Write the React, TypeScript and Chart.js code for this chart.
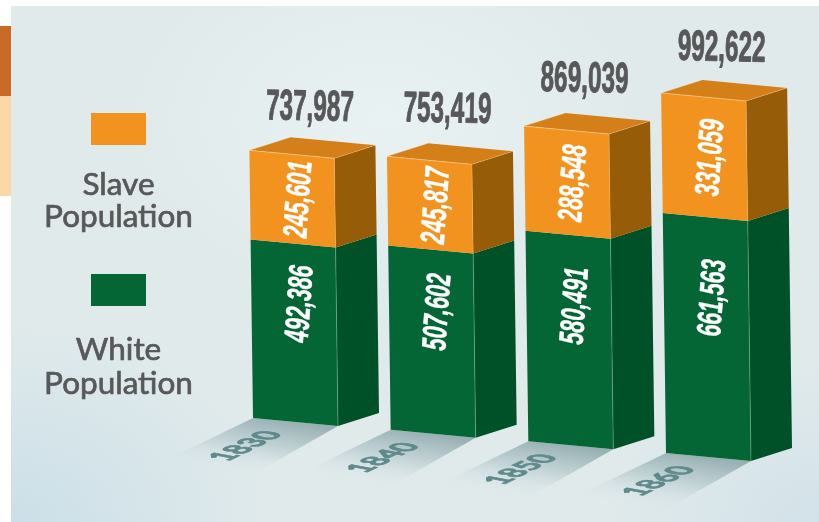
import React, { useEffect, useRef } from "react";
import { Chart, registerables } from "chart.js";

Chart.register(...registerables);

const years = ["1830", "1840", "1850", "1860"];
const whitePopulation = [492386, 507602, 580491, 661563];
const slavePopulation = [245601, 245817, 288548, 331059];

const ORANGE = "#F3931F";
const ORANGE_TOP = "#D47F17";
const ORANGE_SIDE = "#975C07";
const GREEN = "#046535";
const GREEN_SIDE = "#005127";
const TEXT = "#58585A";

const SHEAR_X = 0.0135;
const SHEAR_Y = 0.094;
const BASE_SLOPE = 0.0847;
const DEPTH = { x: 41, y: -13 };
const FLOOR = { x: -95, y: 50 };
const TOTAL_NUDGE_Y = [2, -2, -2, 0];
const NARROW = '"Liberation Sans Narrow", "Liberation Sans", sans-serif';

const fmt = (n: number) => n.toLocaleString("en-US");

function poly(ctx: CanvasRenderingContext2D, pts: number[][], fill: any) {
  ctx.beginPath();
  pts.forEach((p, i) => (i ? ctx.lineTo(p[0], p[1]) : ctx.moveTo(p[0], p[1])));
  ctx.closePath();
  ctx.fillStyle = fill;
  ctx.fill();
}

function line(ctx: CanvasRenderingContext2D, a: number[], b: number[], color: string) {
  ctx.beginPath();
  ctx.moveTo(a[0], a[1]);
  ctx.lineTo(b[0], b[1]);
  ctx.strokeStyle = color;
  ctx.lineWidth = 0.8;
  ctx.stroke();
}

function fitText(ctx: CanvasRenderingContext2D, text: string, font: string, target: number, color: string, weight: number) {
  ctx.font = font;
  ctx.textAlign = "center";
  ctx.textBaseline = "middle";
  ctx.fillStyle = color;
  ctx.strokeStyle = color;
  ctx.lineWidth = weight;
  ctx.lineJoin = "round";
  const w = ctx.measureText(text).width;
  ctx.scale(target / w, 1);
  ctx.strokeText(text, 0, 0);
  ctx.fillText(text, 0, 0);
}

const prismPlugin = {
  id: "prism",
  beforeDatasetsDraw(chart: any) {
    const ctx: CanvasRenderingContext2D = chart.ctx;
    const metaW = chart.getDatasetMeta(0);
    const metaS = chart.getDatasetMeta(1);
    const Yb = chart.scales.y.getPixelForValue(0);
    const L0 = metaW.data[0].x - metaW.data[0].width / 2;

    // legend
    ctx.save();
    [
      { ds: 1, top: 113, lines: [195, 227] },
      { ds: 0, top: 274, lines: [360, 394] },
    ].forEach(({ ds, top, lines }) => {
      const d = chart.data.datasets[ds];
      ctx.fillStyle = d.backgroundColor;
      ctx.fillRect(91, top, 55, 32);
      ctx.font = '31.5px Lato, "Open Sans", sans-serif';
      ctx.textAlign = "center";
      ctx.textBaseline = "alphabetic";
      ctx.fillStyle = TEXT;
      ctx.strokeStyle = TEXT;
      ctx.lineWidth = 0.7;
      d.label.split(" ").forEach((t: string, i: number) => {
        ctx.strokeText(t, 118.5, lines[i]);
        ctx.fillText(t, 118.5, lines[i]);
      });
    });
    ctx.restore();

    metaW.data.forEach((w: any, i: number) => {
      const s = metaS.data[i];
      const L = w.x - w.width / 2;
      const R = w.x + w.width / 2;
      const shift = -SHEAR_Y * L + BASE_SLOPE * (L - L0);
      const M = (x: number, y: number) => [x + SHEAR_X * (y - Yb), y + SHEAR_Y * x + shift];
      const B = (p: number[]) => [p[0] + DEPTH.x, p[1] + DEPTH.y];

      // floor shadow
      const bl = M(L, Yb);
      const br = M(R, Yb);
      const midX = (bl[0] + br[0]) / 2;
      const midY = (bl[1] + br[1]) / 2;
      const g = ctx.createLinearGradient(midX, midY, midX - 10, midY + 60);
      g.addColorStop(0, "rgba(152,175,179,1)");
      g.addColorStop(0.45, "rgba(186,205,207,0.85)");
      g.addColorStop(1, "rgba(224,234,235,0)");
      poly(ctx, [bl, br, [br[0] + FLOOR.x, br[1] + FLOOR.y + 4], [bl[0] + FLOOR.x, bl[1] + FLOOR.y - 4]], g);

      // year on the floor
      ctx.save();
      ctx.font = 'bold 24px Lato, "Open Sans", sans-serif';
      ctx.textAlign = "center";
      ctx.textBaseline = "middle";
      ctx.fillStyle = "#5F8A8C";
      ctx.strokeStyle = "#5F8A8C";
      ctx.lineWidth = 1;
      ctx.transform(1.03, -0.5, 1.3, 0.25, midX - 50, midY + 24);
      ctx.strokeText(chart.data.labels[i], 0, 0);
      ctx.fillText(chart.data.labels[i], 0, 0);
      ctx.restore();

      // sides and top
      const gt = M(R, w.y);
      const gb = M(R, w.base);
      poly(ctx, [gt, gb, B(gb), B(gt)], GREEN_SIDE);
      const ot = M(R, s.y);
      poly(ctx, [ot, gt, B(gt), B(ot)], ORANGE_SIDE);
      const tl = M(L, s.y);
      poly(ctx, [tl, ot, B(ot), B(tl)], ORANGE_TOP);

      // front faces, drawn by the library's bar elements
      ctx.save();
      ctx.transform(1, SHEAR_Y, SHEAR_X, 1, -SHEAR_X * Yb, shift);
      w.draw(ctx);
      s.draw(ctx);
      ctx.restore();

      // edge highlights
      line(ctx, tl, ot, "rgba(255,235,200,0.55)");
      line(ctx, ot, gt, "rgba(255,235,200,0.25)");
      line(ctx, gt, gb, "rgba(190,235,210,0.4)");
      line(ctx, tl, B(tl), "rgba(255,235,200,0.35)");
      line(ctx, ot, B(ot), "rgba(255,235,200,0.35)");

      // values on the front faces
      const cx = (L + R) / 2 + 7;
      const label = (value: number, y: number) => {
        const p = M(cx, y);
        ctx.save();
        ctx.translate(p[0], p[1]);
        ctx.rotate((-86 * Math.PI) / 180);
        fitText(ctx, fmt(value), `italic bold 34px ${NARROW}`, 77, "#FFFFFF", 0.5);
        ctx.restore();
      };
      label(slavePopulation[i], (s.y + w.y) / 2);
      label(whitePopulation[i], w.y + (w.base - w.y) * 0.335);

      // total above the bar
      const backTop = B(tl);
      ctx.save();
      ctx.translate(w.x + 18 + SHEAR_X * (s.y - Yb), backTop[1] - 31 + TOTAL_NUDGE_Y[i]);
      ctx.rotate((1.2 * Math.PI) / 180);
      fitText(ctx, fmt(whitePopulation[i] + slavePopulation[i]), `bold 43px ${NARROW}`, 88, TEXT, 1);
      ctx.restore();
    });
    return false;
  },
};

export default function App() {
  const ref = useRef<HTMLCanvasElement>(null);
  useEffect(() => {
    const chart = new Chart(ref.current as HTMLCanvasElement, {
      type: "bar",
      data: {
        labels: years,
        datasets: [
          { label: "White Population", data: whitePopulation, backgroundColor: GREEN, borderWidth: 0 },
          { label: "Slave Population", data: slavePopulation, backgroundColor: ORANGE, borderWidth: 0 },
        ],
      },
      options: {
        animation: false,
        responsive: false,
        layout: { padding: { left: 226.67, right: 41.67, top: 19, bottom: 104 } },
        plugins: { legend: { display: false }, tooltip: { enabled: false }, title: { display: false } },
        datasets: { bar: { barPercentage: 1, categoryPercentage: 0.6174 } },
        scales: {
          x: { stacked: true, display: false },
          y: { stacked: true, display: false, min: 0, max: 1100000 },
        },
      },
      plugins: [prismPlugin],
    } as any);
    return () => chart.destroy();
  }, []);

  return (
    <div style={{ position: "fixed", left: 0, top: 0, width: 819, height: 522, overflow: "hidden", background: "#fff" }}>
      <div style={{ position: "absolute", left: 0, top: 26, width: 11, height: 70, background: "#C96A25" }} />
      <div style={{ position: "absolute", left: 0, top: 96, width: 11, height: 100, background: "#FDD7A5" }} />
      <div
        style={{
          position: "absolute",
          left: 11,
          top: 6,
          right: 0,
          bottom: 0,
          background:
            "radial-gradient(ellipse 260px 200px at 0% 100%, #cbdfe8 0%, rgba(203,223,232,0) 100%), radial-gradient(ellipse 220px 160px at 100% 100%, #d3e2e9 0%, rgba(211,226,233,0) 100%), radial-gradient(ellipse 260px 180px at 46% 22%, #e9f2f3 0%, rgba(233,242,243,0) 100%), #E0EAEB",
        }}
      />
      <canvas ref={ref} width={819} height={522} style={{ position: "absolute", left: 0, top: 0, display: "block" }} />
    </div>
  );
}
